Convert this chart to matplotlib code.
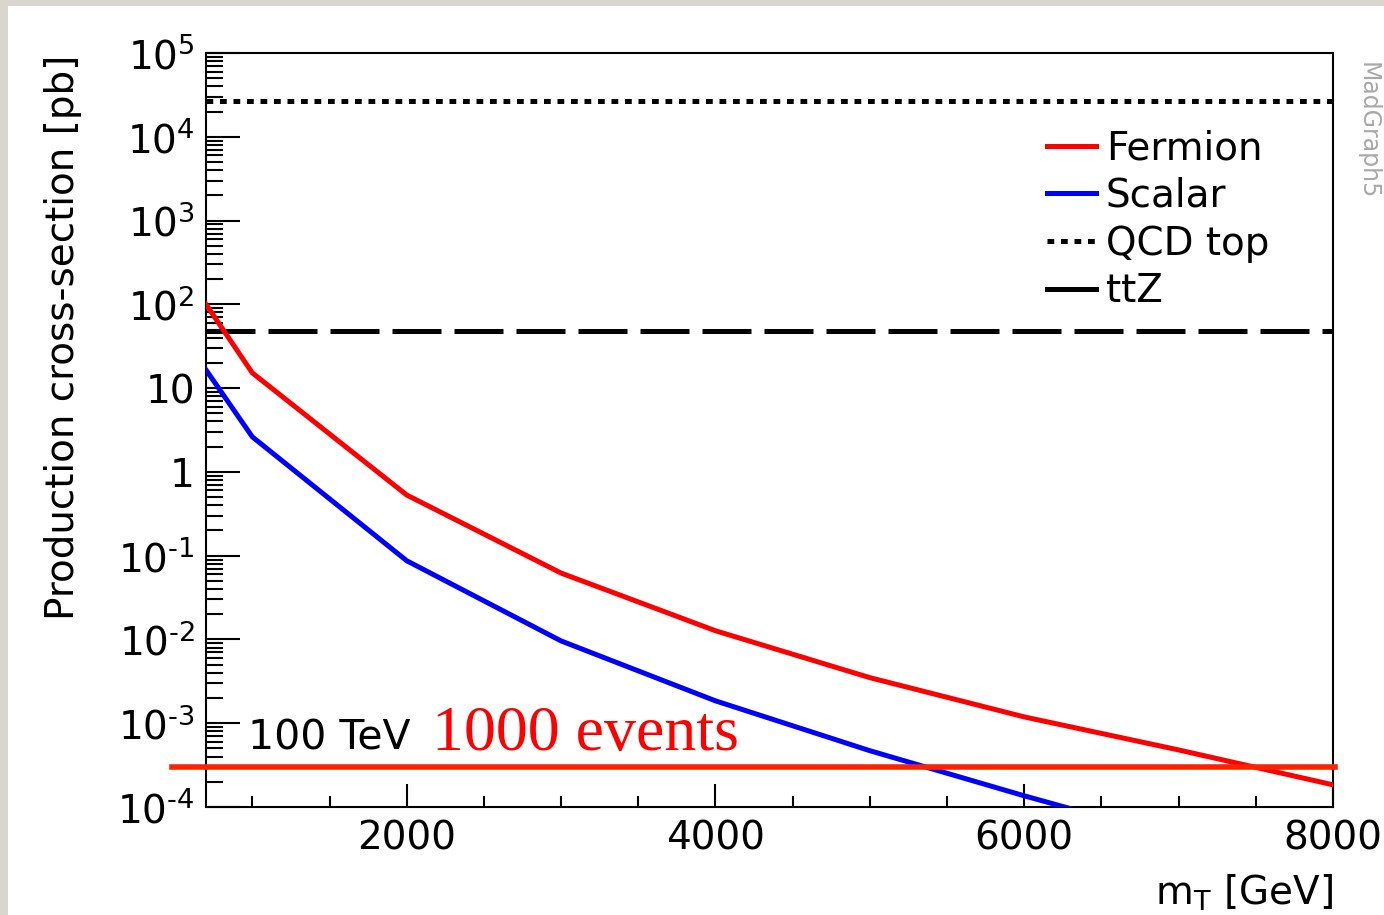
# -*- coding: utf-8 -*-

import numpy as np
import matplotlib.pyplot as plt
from matplotlib.lines import Line2D
from matplotlib.patches import Rectangle
from matplotlib.ticker import FixedLocator, MultipleLocator, NullFormatter

plt.rcParams['font.family'] = 'DejaVu Sans'
plt.rcParams['mathtext.fontset'] = 'dejavusans'

#%% data

mass = [700, 1000, 2000, 3000, 4000, 5000, 6000, 7000, 8000]
fermion = [100, 15.2, 0.53, 0.062, 0.0127, 0.0035, 1.19e-3, 4.8e-4, 1.84e-4]
scalar = [16.5, 2.62, 0.087, 0.0096, 1.85e-3, 4.7e-4, 1.36e-4, 4.2e-5, 1.4e-5]

qcd_top = 2.67e4
ttz = 48.
events_1000 = 3.0e-4
events_x = [477, 8013]

ytick_vals = [1e5, 1e4, 1e3, 1e2, 10, 1, 1e-1, 1e-2, 1e-3, 1e-4]
ytick_labels = [r'$10^{5}$', r'$10^{4}$', r'$10^{3}$', r'$10^{2}$', '10', '1',
                '$10^{\u20101}$', '$10^{\u20102}$', '$10^{\u20103}$',
                '$10^{\u20104}$']

#%% figure

W, H = 1384, 915
f = plt.figure(figsize=(W/100., H/100.), dpi=100)
f.patch.set_facecolor('#d9d6d0')
f.patches.append(Rectangle((8./W, 0), 1, 1 - 6./H, transform=f.transFigure,
                           facecolor='white', edgecolor='none', zorder=-10))

ax = f.add_axes([206./W, 1 - 807./H, 1127./W, 754./H])
ax.set_facecolor('white')
ax.set_yscale('log')
ax.set_xlim(700, 8000)
ax.set_ylim(1e-4, 1e5)

red = '#ff0000'
blue = '#0000ff'
lw = 3.6

ax.plot(mass, fermion, color=red, lw=lw, solid_joinstyle='miter', zorder=3)
ax.plot(mass, scalar, color=blue, lw=lw, solid_joinstyle='miter', zorder=3)
ax.axhline(qcd_top, color='k', lw=lw, linestyle=(0, (1.35, 1.35)),
           dash_capstyle='butt', zorder=2)
ax.axhline(ttz, color='k', lw=lw, linestyle=(0, (9.8, 2.6)),
           dash_capstyle='butt', zorder=2)
ax.plot(events_x, [events_1000, events_1000], color='#ff2200', lw=4.0,
        clip_on=False, zorder=4)

# ROOT style ticks
ax.yaxis.set_major_locator(FixedLocator(ytick_vals))
ax.set_yticklabels(ytick_labels)
ax.yaxis.set_minor_locator(FixedLocator(
    [m * 10.**e for e in range(-4, 5) for m in range(2, 10)]))
ax.yaxis.set_minor_formatter(NullFormatter())
ax.xaxis.set_major_locator(FixedLocator([2000, 4000, 6000, 8000]))
ax.xaxis.set_minor_locator(MultipleLocator(500))

ax.tick_params(axis='both', which='both', direction='in', width=1.5,
               labelsize=28, top=False, right=False)
ax.tick_params(axis='y', which='major', length=24.5, pad=8)
ax.tick_params(axis='y', which='minor', length=12.2)
ax.tick_params(axis='x', which='major', length=16.6, pad=9)
ax.tick_params(axis='x', which='minor', length=8)
for s in ax.spines.values():
    s.set_linewidth(1.5)

# labels
f.text(63./W, 1 - 55./H, 'Production cross-section [pb]', rotation=90,
       ha='center', va='top', fontsize=28)
f.text(1333./W, 1 - 905./H, r'm$_{\mathrm{T}}$ [GeV]', ha='right',
       va='baseline', fontsize=28)
f.text(1368./W, 1 - 131./H, 'MadGraph5', rotation=270, ha='center',
       va='center', fontsize=17, color='#a8a8a8')

ax.text(0.0373, 0.0756, '100 TeV', transform=ax.transAxes, fontsize=29.5,
        va='baseline', ha='left')
ax.text(0.2005, 0.0756, '1000 events', transform=ax.transAxes, fontsize=46,
        va='baseline', ha='left', color=red, family='Liberation Serif')

# legend
handles = [Line2D([], [], color=red, lw=lw),
           Line2D([], [], color=blue, lw=lw),
           Line2D([], [], color='k', lw=lw, linestyle=(0, (1.35, 1.35)),
                  dash_capstyle='butt'),
           Line2D([], [], color='k', lw=lw)]
ax.legend(handles, ['Fermion', 'Scalar', 'QCD top', 'ttZ'], loc='upper left',
          bbox_to_anchor=(0.746, 0.899), frameon=False, fontsize=28,
          handlelength=1.26, handletextpad=0.26, labelspacing=0.25,
          borderpad=0, borderaxespad=0)

f.savefig('out.png', dpi=100, facecolor=f.get_facecolor())
